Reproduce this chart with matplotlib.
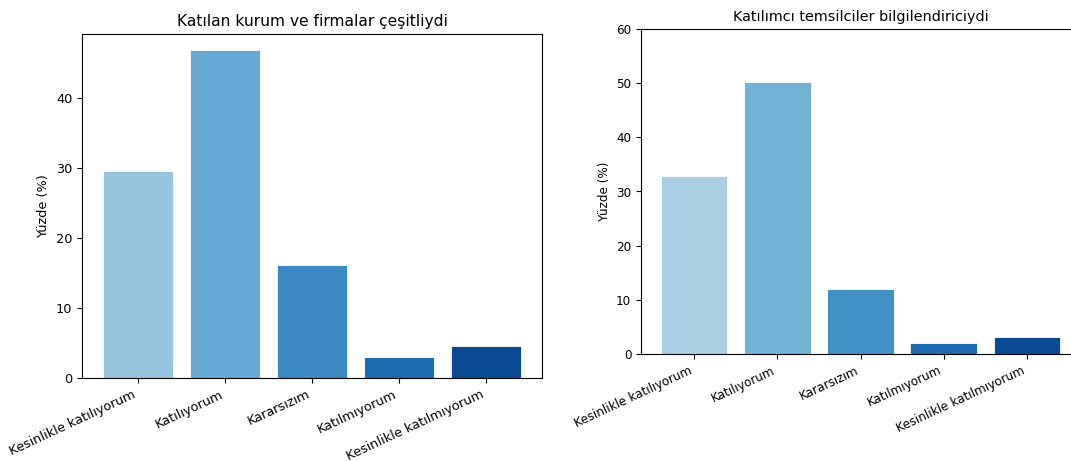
import matplotlib
matplotlib.use("Agg")
import matplotlib.pyplot as plt

categories = ["Kesinlikle katılıyorum", "Katılıyorum", "Kararsızım",
              "Katılmıyorum", "Kesinlikle katılmıyorum"]
left_values = [29.5, 46.8, 16.2, 3.0, 4.6]
right_values = [32.9, 50.3, 12.0, 2.1, 3.1]
left_title = "Katılan kurum ve firmalar çeşitliydi"
right_title = "Katılımcı temsilciler bilgilendiriciydi"
ylabel = "Yüzde (%)"
left_colors = ["#97c4e0", "#65a8d3", "#3c89c2", "#1f6bb1", "#0a4a90"]
right_colors = ["#a8cee4", "#73b1d7", "#4190c6", "#1f6bb1", "#0a4a90"]

W, H = 1071, 461
fig = plt.figure(figsize=(W / 100, H / 100), dpi=100)
x = range(len(categories))

s1 = 0.93
ax1 = fig.add_axes([82 / W, 1 - 378 / H, 460 / W, 344 / H])
ax1.bar(x, left_values, color=left_colors, edgecolor="white", linewidth=0.6)
ax1.set_xticks(list(x))
ax1.set_xticklabels(categories, rotation=25, ha="right", fontsize=10 * s1)
ax1.set_ylabel(ylabel, fontsize=10 * s1)
ax1.set_title(left_title, fontsize=12 * s1)
ax1.tick_params(axis="y", labelsize=10 * s1)

s2 = 0.865
ax2 = fig.add_axes([641 / W, 1 - 354 / H, 439 / W, 325 / H])
ax2.bar(x, right_values, color=right_colors, edgecolor="white", linewidth=0.6)
ax2.set_xticks(list(x))
ax2.set_xticklabels(categories, rotation=25, ha="right", fontsize=10 * s2)
ax2.set_ylabel(ylabel, fontsize=10 * s2)
ax2.set_title(right_title, fontsize=12 * s2)
ax2.set_ylim(0, 60)
ax2.tick_params(axis="y", labelsize=10 * s2)

fig.savefig("out.png", dpi=100)
